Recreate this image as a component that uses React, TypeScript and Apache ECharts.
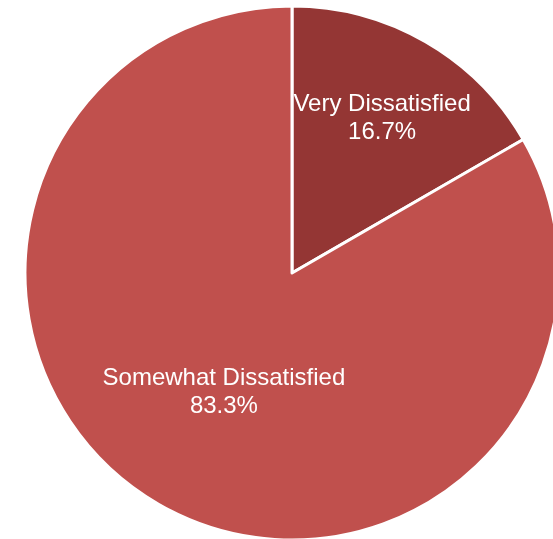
import React, { useEffect, useRef } from "react";
import * as echarts from "echarts";

const categories = ["Very Dissatisfied", "Somewhat Dissatisfied"];
const values = [1, 5];
const colors = ["#943634", "#c0504d"];
const labelRadiusFrac = [0.675, 0.51];

export default function App() {
  const ref = useRef<HTMLDivElement>(null);
  useEffect(() => {
    if (!ref.current) return;
    const chart = echarts.init(ref.current, undefined, { renderer: "svg" });
    const cx = 292;
    const cy = 273;
    const R = 267;
    const total = values.reduce((a, b) => a + b, 0);
    const midAngles: number[] = [];
    let acc = 0;
    values.forEach((v) => {
      midAngles.push(((acc + v / 2) / total) * Math.PI * 2);
      acc += v;
    });
    chart.setOption({
      animation: false,
      series: [
        {
          type: "pie",
          center: [cx, cy],
          radius: R,
          startAngle: 90,
          clockwise: true,
          percentPrecision: 1,
          avoidLabelOverlap: false,
          itemStyle: { borderColor: "#ffffff", borderWidth: 3 },
          label: {
            show: true,
            position: "inside",
            formatter: "{b}\n{d}%",
            color: "#ffffff",
            fontFamily: "Liberation Sans, Arial, Helvetica, sans-serif",
            fontSize: 24,
            lineHeight: 28,
            align: "center",
          },
          labelLine: { show: false },
          emphasis: { disabled: true },
          labelLayout: (params: any) => {
            const i = params.dataIndex;
            const a = midAngles[i];
            const r = R * labelRadiusFrac[i];
            return { x: cx + r * Math.sin(a), y: cy - r * Math.cos(a) };
          },
          data: categories.map((name, i) => ({
            name,
            value: values[i],
            itemStyle: { color: colors[i] },
          })),
        },
      ],
    });
    return () => chart.dispose();
  }, []);
  return (
    <div
      ref={ref}
      style={{ position: "fixed", left: 0, top: 0, width: 553, height: 539 }}
    />
  );
}
